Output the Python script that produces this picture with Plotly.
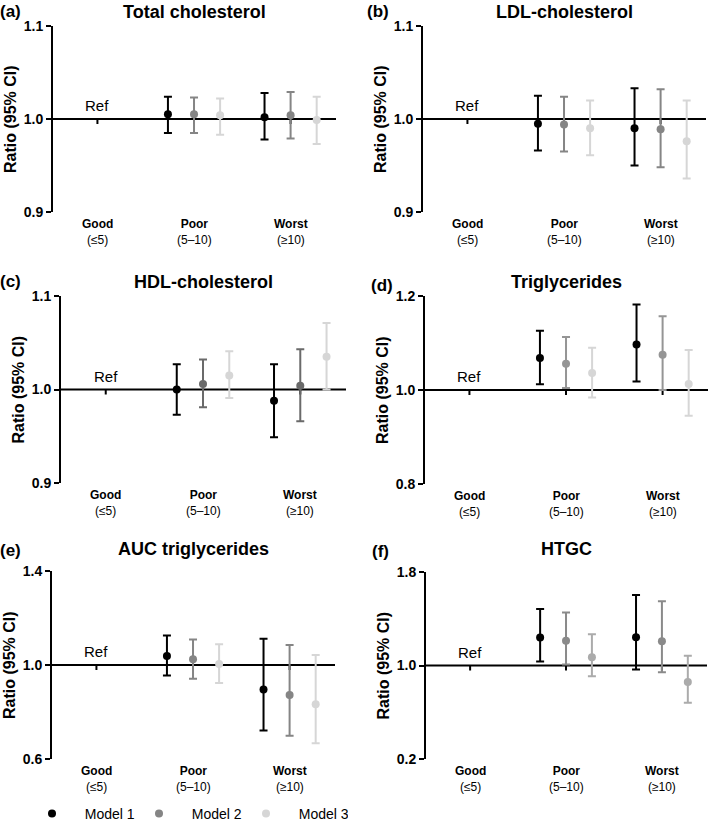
import plotly.graph_objects as go

# ---------------- data ----------------
cat_names = ["Good", "Poor", "Worst"]
cat_ranges = ["(≤5)", "(5–10)", "(≥10)"]
model_names = ["Model 1", "Model 2", "Model 3"]

panel_titles = ["Total cholesterol", "LDL-cholesterol", "HDL-cholesterol",
                "Triglycerides", "AUC triglycerides", "HTGC"]
panel_letters = ["(a)", "(b)", "(c)", "(d)", "(e)", "(f)"]
y_ticks = [[0.9, 1.0, 1.1], [0.9, 1.0, 1.1], [0.9, 1.0, 1.1],
           [0.8, 1.0, 1.2], [0.6, 1.0, 1.4], [0.2, 1.0, 1.8]]

# per model: [Poor, Worst] (Good = reference)
tc_est = [[1.005, 1.002], [1.005, 1.004], [1.004, 0.999]]
tc_lo = [[0.985, 0.978], [0.985, 0.979], [0.983, 0.973]]
tc_hi = [[1.024, 1.028], [1.023, 1.029], [1.022, 1.024]]

ldl_est = [[0.995, 0.990], [0.994, 0.989], [0.990, 0.976]]
ldl_lo = [[0.966, 0.950], [0.965, 0.948], [0.961, 0.936]]
ldl_hi = [[1.025, 1.033], [1.024, 1.032], [1.020, 1.020]]

hdl_est = [[1.000, 0.988], [1.006, 1.004], [1.015, 1.035]]
hdl_lo = [[0.973, 0.949], [0.981, 0.966], [0.991, 1.000]]
hdl_hi = [[1.027, 1.027], [1.032, 1.043], [1.041, 1.071]]

tg_est = [[1.068, 1.097], [1.056, 1.075], [1.036, 1.013]]
tg_lo = [[1.012, 1.018], [1.004, 1.000], [0.984, 0.945]]
tg_hi = [[1.126, 1.182], [1.113, 1.157], [1.090, 1.085]]

auc_est = [[1.038, 0.896], [1.024, 0.872], [1.004, 0.833]]
auc_lo = [[0.955, 0.721], [0.942, 0.699], [0.923, 0.667]]
auc_hi = [[1.126, 1.112], [1.109, 1.085], [1.088, 1.043]]

htgc_est = [[1.239, 1.242], [1.211, 1.208], [1.071, 0.858]]
htgc_lo = [[1.034, 0.966], [1.009, 0.943], [0.909, 0.681]]
htgc_hi = [[1.484, 1.604], [1.453, 1.550], [1.268, 1.083]]

panels_est = [tc_est, ldl_est, hdl_est, tg_est, auc_est, htgc_est]
panels_lo = [tc_lo, ldl_lo, hdl_lo, tg_lo, auc_lo, htgc_lo]
panels_hi = [tc_hi, ldl_hi, hdl_hi, tg_hi, auc_hi, htgc_hi]

# ---------------- style ----------------
W, H = 709, 824
FONT = "Liberation Sans, Arial, Helvetica, sans-serif"
model_colors = ["#000000", "#858585", "#d6d6d6"]
panel_color_override = {2: {1: "#6a6a6a"}, 3: {1: "#959595"}, 5: {1: "#8a8a8a", 2: "#ababab"}}
model_offsets = [-0.27, 0.0, 0.27]

# pixel boxes: (x0, x1, ytop, ybottom)
boxes = [(53, 336, 26, 212), (423, 706, 26, 212),
         (61, 346, 296, 483), (425, 708, 296, 484),
         (52, 335, 571, 759), (426, 707, 572, 759)]
title_y = [12, 12, 282, 282, 549, 549]
letter_x = [10, 378, 10, 382, 10, 380]
letter_y = [12, 12, 281, 286, 550, 551]


def px(x):
    return x / W


def py(y):
    return 1 - y / H


fig = go.Figure()
layout = {}
annotations = []
shapes = []

for p in range(6):
    sfx = "" if p == 0 else str(p + 1)
    xa, ya = "x" + sfx, "y" + sfx
    x0, x1, yt, yb = boxes[p]
    layout["xaxis" + sfx] = dict(domain=[px(x0), px(x1)], range=[-0.46, 2.47],
                                 anchor=ya, showline=False, showticklabels=False,
                                 ticks="", showgrid=False, zeroline=False, fixedrange=True,
                                 automargin=False)
    yt_vals = y_ticks[p]
    layout["yaxis" + sfx] = dict(domain=[py(yb), py(yt)], range=[yt_vals[0], yt_vals[-1]],
                                 anchor=xa, showline=True, linewidth=2, linecolor="black",
                                 ticks="outside", ticklen=5, tickwidth=2, tickcolor="black",
                                 tickvals=yt_vals, ticktext=[f"{v:.1f}" for v in yt_vals],
                                 tickfont=dict(family=FONT, size=14, color="black", weight="bold"),
                                 showgrid=False, zeroline=False, fixedrange=True,
                                 automargin=False)

    for m in range(3):
        color = panel_color_override.get(p, {}).get(m, model_colors[m])
        est = panels_est[p][m]
        lo = panels_lo[p][m]
        hi = panels_hi[p][m]
        xs = [1 + model_offsets[m], 2 + model_offsets[m]]
        fig.add_trace(go.Scatter(
            x=xs, y=est, mode="markers", xaxis=xa, yaxis=ya,
            name="\u00a0\u00a0" + model_names[m], legendgroup=model_names[m],
            showlegend=(p == 0),
            marker=dict(size=8, color=model_colors[m] if p == 0 else color),
            error_y=dict(type="data", symmetric=False,
                         array=[h - e for h, e in zip(hi, est)],
                         arrayminus=[e - l for e, l in zip(est, lo)],
                         color=color, thickness=2, width=4),
            hoverinfo="skip"))

    # reference line at ratio 1.0 (horizontal axis)
    shapes.append(dict(type="line", xref=xa + " domain", yref=ya, x0=0, x1=1, y0=1, y1=1,
                       line=dict(color="black", width=2), layer="below"))
    for i in range(len(cat_names)):
        shapes.append(dict(type="line", xref=xa, yref=ya, xsizemode="scaled",
                           ysizemode="pixel", yanchor=1, x0=i, x1=i, y0=0, y1=-5,
                           line=dict(color="black", width=2), layer="below"))
        annotations.append(dict(x=i, xref=xa, y=0, yref=ya + " domain", yanchor="top",
                                yshift=-3, showarrow=False, align="center",
                                text=f"<b>{cat_names[i]}</b><br>{cat_ranges[i]}",
                                font=dict(family=FONT, size=12, color="black")))
    annotations.append(dict(x=0, xref=xa, y=1, yref=ya, yanchor="bottom", yshift=3,
                            showarrow=False, text="Ref",
                            font=dict(family=FONT, size=15, color="black")))
    annotations.append(dict(x=0.5, xref=xa + " domain", y=py(title_y[p]), yref="paper",
                            yanchor="middle", showarrow=False, text=f"<b>{panel_titles[p]}</b>",
                            font=dict(family=FONT, size=18, color="black")))
    annotations.append(dict(x=px(letter_x[p]), xref="paper", y=py(letter_y[p]), yref="paper",
                            xanchor="center", yanchor="middle", showarrow=False,
                            text=f"<b>{panel_letters[p]}</b>",
                            font=dict(family=FONT, size=17, color="black")))
    annotations.append(dict(x=px(x0 - 43), xref="paper", y=py((yt + yb) / 2), yref="paper",
                            xanchor="center", yanchor="middle", showarrow=False, textangle=-90,
                            text="<b>Ratio (95% CI)</b>",
                            font=dict(family=FONT, size=16, color="black")))

fig.update_layout(
    width=W, height=H, margin=dict(l=0, r=0, t=0, b=0, autoexpand=False),
    plot_bgcolor="white", paper_bgcolor="white",
    font=dict(family=FONT, color="black"),
    showlegend=True,
    legend=dict(orientation="h", x=px(27), y=py(814), xanchor="left", yanchor="middle",
                itemwidth=40, entrywidth=52,
                font=dict(family=FONT, size=14, color="black"),
                bgcolor="rgba(0,0,0,0)"),
    annotations=annotations, shapes=shapes, **layout)

fig.write_html("out.html", config={"displayModeBar": False},
               post_script="document.body.style.margin='0';document.body.style.overflow='hidden';")
